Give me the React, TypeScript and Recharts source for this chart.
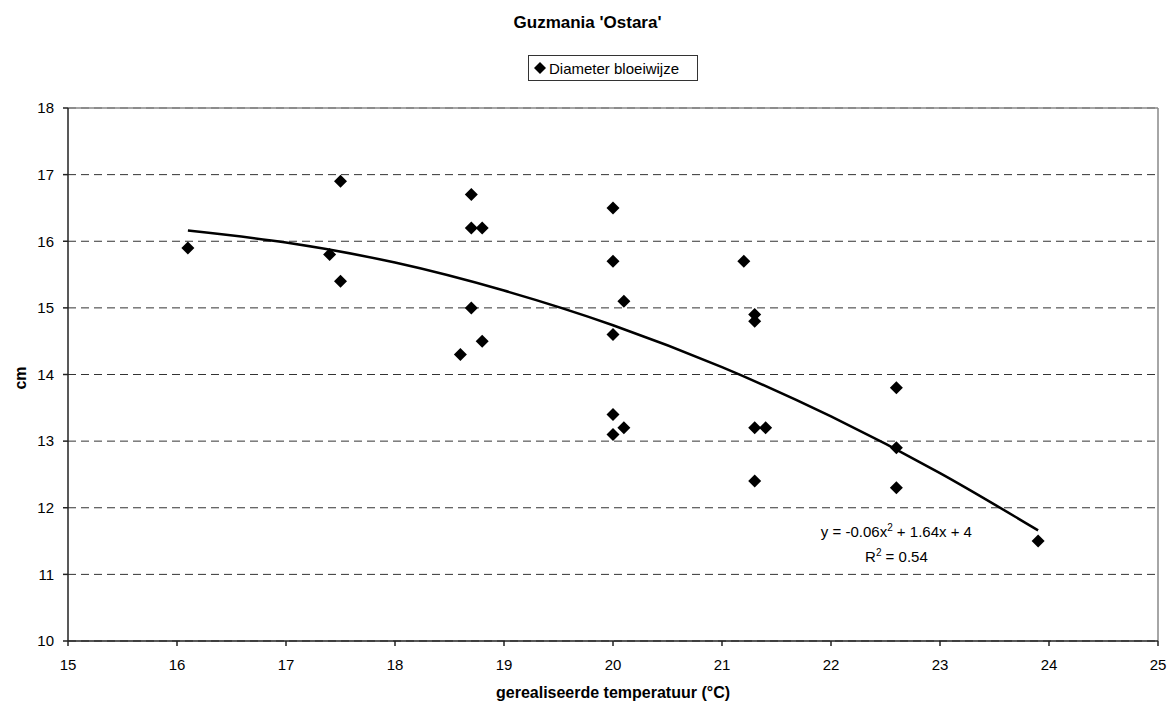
import { ScatterChart, Scatter, XAxis, YAxis, CartesianGrid, ReferenceLine, ReferenceDot } from "recharts";

// gerealiseerde temperatuur (°C) vs diameter bloeiwijze (cm)
const temperatuur = [16.1, 17.4, 17.5, 17.5, 18.6, 18.7, 18.7, 18.8, 18.7, 18.8, 20.0, 20.0, 20.1, 20.0, 20.0, 20.0, 20.1, 21.2, 21.3, 21.3, 21.3, 21.4, 21.3, 22.6, 22.6, 22.6, 23.9];
const diameter = [15.9, 15.8, 16.9, 15.4, 14.3, 16.7, 16.2, 16.2, 15.0, 14.5, 16.5, 15.7, 15.1, 14.6, 13.4, 13.1, 13.2, 15.7, 14.9, 14.8, 13.2, 13.2, 12.4, 13.8, 12.9, 12.3, 11.5];

// trendlijn
const trendX = [16.1, 17, 18, 19, 20, 21, 22, 23, 23.9];
const trendY = [16.16, 15.98, 15.68, 15.26, 14.74, 14.11, 13.37, 12.52, 11.66];

const xTicks = [15, 16, 17, 18, 19, 20, 21, 22, 23, 24, 25];
const yTicks = [10, 11, 12, 13, 14, 15, 16, 17, 18];

const FONT = "'Liberation Sans', Arial, sans-serif";

const punten = temperatuur.map((t, i) => ({ x: t, y: diameter[i] }));
const trend = trendX.map((t, i) => ({ x: t, y: trendY[i] }));

function Diamond(props: any) {
  const { cx, cy } = props;
  const r = 6.5;
  return <polygon points={`${cx},${cy - r} ${cx + r},${cy} ${cx},${cy + r} ${cx - r},${cy}`} fill="#000" />;
}

function Vergelijking(props: any) {
  const { cx, cy } = props;
  return (
    <text x={cx} y={cy} textAnchor="middle" fontFamily={FONT} fontSize={15} fill="#000">
      <tspan x={cx} y={cy - 4}>
        y = -0.06x<tspan dy={-6} fontSize={10}>2</tspan>
        <tspan dy={6}> + 1.64x + 4</tspan>
      </tspan>
      <tspan x={cx} y={cy + 21}>
        R<tspan dy={-6} fontSize={10}>2</tspan>
        <tspan dy={6}> = 0.54</tspan>
      </tspan>
    </text>
  );
}

export default function App() {
  return (
    <div style={{ position: "absolute", left: 0, top: 0, width: 1175, height: 708, background: "#fff", fontFamily: FONT }}>
      <div style={{ position: "absolute", left: 0, width: 1175, top: 13, textAlign: "center", fontWeight: "bold", fontSize: 17 }}>
        Guzmania 'Ostara'
      </div>
      <div
        style={{
          position: "absolute",
          left: 528,
          top: 55,
          width: 168,
          height: 24,
          border: "1px solid #333",
          display: "flex",
          alignItems: "center",
          fontSize: 15,
        }}
      >
        <svg width={18} height={14} style={{ marginLeft: 2 }}>
          <polygon points="9,1 15,7 9,13 3,7" fill="#000" />
        </svg>
        <span>Diameter bloeiwijze</span>
      </div>
      <ScatterChart width={1175} height={708} margin={{ top: 108, right: 17, bottom: 37, left: 8 }}>
        <CartesianGrid vertical={false} stroke="#333" strokeDasharray="8 5" />
        <XAxis
          type="number"
          dataKey="x"
          domain={[15, 25]}
          ticks={xTicks}
          interval={0}
          height={30}
          tickSize={5}
          tickMargin={13}
          stroke="#222"
          strokeWidth={1.5}
          tick={{ fill: "#000", fontSize: 15, fontFamily: FONT }}
          label={{
            content: () => (
              <text x={613} y={698} textAnchor="middle" fontFamily={FONT} fontSize={16} fontWeight="bold" fill="#000">
                gerealiseerde temperatuur (°C)
              </text>
            ),
          }}
        />
        <YAxis
          type="number"
          dataKey="y"
          domain={[10, 18]}
          ticks={yTicks}
          interval={0}
          width={60}
          tickSize={5}
          tickMargin={9}
          stroke="#222"
          strokeWidth={1.5}
          tick={{ fill: "#000", fontSize: 15, fontFamily: FONT }}
          label={{
            content: () => (
              <text
                x={20}
                y={378}
                transform="rotate(-90 20 378)"
                textAnchor="middle"
                dominantBaseline="central"
                fontFamily={FONT}
                fontSize={16}
                fontWeight="bold"
                fill="#000"
              >
                cm
              </text>
            ),
          }}
        />
        <ReferenceLine y={18} stroke="#888" strokeWidth={1.5} />
        <ReferenceLine x={25} stroke="#888" strokeWidth={1.5} />
        <Scatter name="Diameter bloeiwijze" data={punten} shape={<Diamond />} isAnimationActive={false} />
        <Scatter
          name="Trendlijn"
          data={trend}
          line={{ stroke: "#000", strokeWidth: 2.5 }}
          lineJointType="monotoneX"
          shape={() => <g />}
          isAnimationActive={false}
        />
        <ReferenceDot x={22.6} y={11.5} r={0} shape={<Vergelijking />} />
      </ScatterChart>
    </div>
  );
}
